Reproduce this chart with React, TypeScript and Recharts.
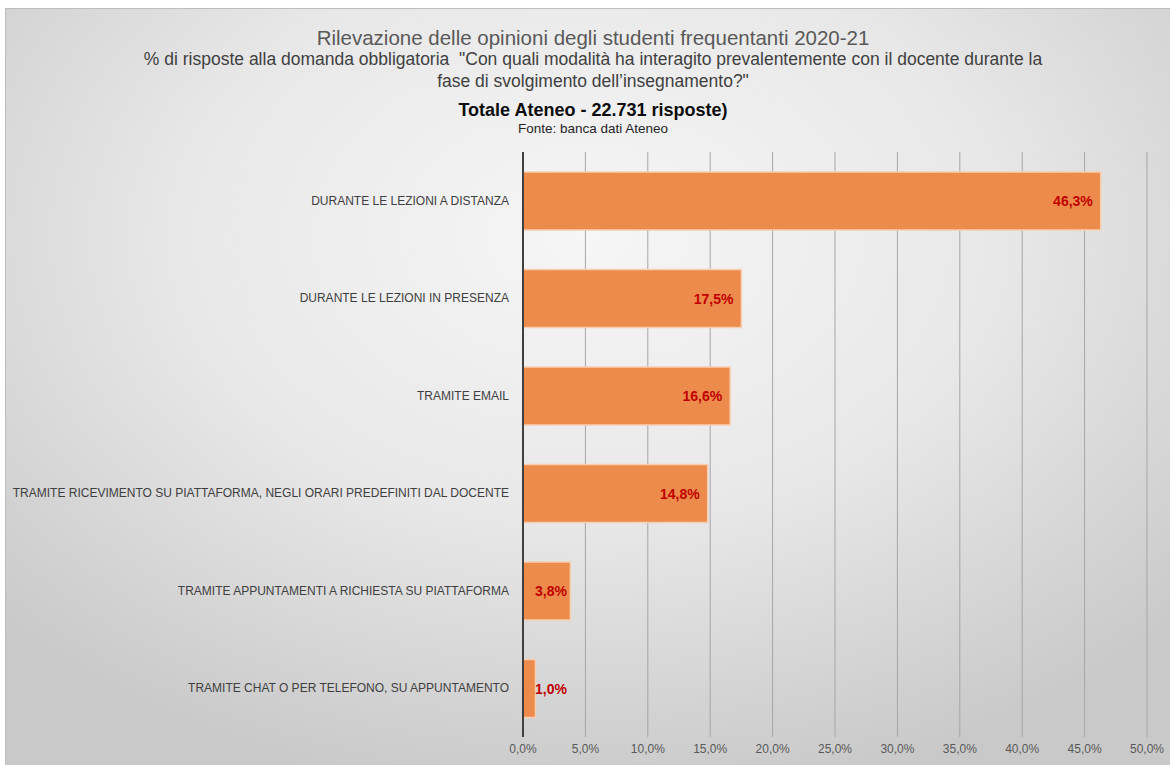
import React from 'react';
import { BarChart, Bar, XAxis, YAxis, CartesianGrid, LabelList } from 'recharts';

const categories = [
  'DURANTE LE LEZIONI A DISTANZA',
  'DURANTE LE LEZIONI IN PRESENZA',
  'TRAMITE EMAIL',
  'TRAMITE RICEVIMENTO SU PIATTAFORMA, NEGLI ORARI PREDEFINITI DAL DOCENTE',
  'TRAMITE APPUNTAMENTI A RICHIESTA SU PIATTAFORMA',
  'TRAMITE CHAT O PER TELEFONO, SU APPUNTAMENTO',
];
const values = [46.3, 17.5, 16.6, 14.8, 3.8, 1.0];
const xTicks = [0, 5, 10, 15, 20, 25, 30, 35, 40, 45, 50];

const titleLine = 'Rilevazione delle opinioni degli studenti frequentanti 2020-21';
const subtitleLine1 = '% di risposte alla domanda obbligatoria  "Con quali modalità ha interagito prevalentemente con il docente durante la';
const subtitleLine2 = 'fase di svolgimento dell’insegnamento?"';
const totalLine = 'Totale Ateneo - 22.731 risposte)';
const sourceLine = 'Fonte: banca dati Ateneo';

const data = categories.map((name, i) => ({ name, value: values[i] }));

const fmt = (v: number) => v.toFixed(1).replace('.', ',') + '%';

const FONT = '"Liberation Sans", Arial, sans-serif';

const ValueLabel = (props: any) => {
  const { x, y, width, height, value } = props;
  const endX = Math.max(x + width - 8, x + 44);
  return (
    <text
      x={endX}
      y={y + height / 2}
      textAnchor="end"
      dominantBaseline="central"
      fill="#C00000"
      fontWeight="bold"
      fontSize={14}
      fontFamily={FONT}
    >
      {fmt(value)}
    </text>
  );
};

const CategoryTick = (props: any) => {
  const { x, y, payload } = props;
  return (
    <text
      x={x}
      y={y}
      textAnchor="end"
      dominantBaseline="central"
      fill="#404040"
      fontSize={12}
      fontFamily={FONT}
    >
      {payload.value}
    </text>
  );
};

export default function App() {
  const center = 593;
  const textStyle = (top: number, size: number, color: string, bold = false): React.CSSProperties => ({
    position: 'absolute',
    left: 0,
    width: center * 2,
    top,
    textAlign: 'center',
    fontSize: size,
    color,
    fontWeight: bold ? 'bold' : 'normal',
    fontFamily: FONT,
    whiteSpace: 'pre',
    lineHeight: 1,
  });
  return (
    <div style={{ position: 'absolute', left: 0, top: 0, width: 1170, height: 765, background: '#fff', overflow: 'hidden' }}>
      <div
        style={{
          position: 'absolute',
          left: 5,
          top: 8,
          width: 1165,
          height: 757,
          borderTop: '1px solid #bdbdbd',
          borderLeft: '1px solid #bdbdbd',
          background: 'radial-gradient(ellipse 70% 75% at 50% 30%, #f6f6f6 0%, #e8e8e8 50%, #d2d2d2 85%, #c9c9c9 100%)',
        }}
      />
      <div style={textStyle(28, 20.5, '#595959')}>{titleLine}</div>
      <div style={textStyle(51, 17.5, '#404040')}>{subtitleLine1}</div>
      <div style={textStyle(73, 17.5, '#404040')}>{subtitleLine2}</div>
      <div style={textStyle(101, 18, '#0d0d0d', true)}>{totalLine}</div>
      <div style={textStyle(122, 13.5, '#262626')}>{sourceLine}</div>
      <div style={{ position: 'absolute', left: 0, top: 0 }}>
        <BarChart
          width={1170}
          height={765}
          data={data}
          layout="vertical"
          margin={{ top: 152, right: 23, bottom: 0, left: 8 }}
          barSize={58}
        >
          <CartesianGrid horizontal={false} vertical={true} stroke="#a6a6a6" strokeWidth={1} />
          <XAxis
            type="number"
            domain={[0, 50]}
            ticks={xTicks}
            tickFormatter={(v: number) => fmt(v)}
            axisLine={false}
            tickLine={false}
            interval={0}
            height={28}
            tick={{ fontSize: 12, fill: '#595959', fontFamily: FONT }}
            tickMargin={1}
          />
          <YAxis
            type="category"
            dataKey="name"
            width={515}
            axisLine={{ stroke: '#404040', strokeWidth: 2 }}
            tickLine={false}
            tickMargin={8}
            interval={0}
            tick={<CategoryTick />}
          />
          <Bar
            dataKey="value"
            fill="#EC8B4B"
            stroke="#F7D0B2"
            strokeWidth={1.5}
            isAnimationActive={false}
          >
            <LabelList dataKey="value" content={<ValueLabel />} />
          </Bar>
        </BarChart>
      </div>
    </div>
  );
}
